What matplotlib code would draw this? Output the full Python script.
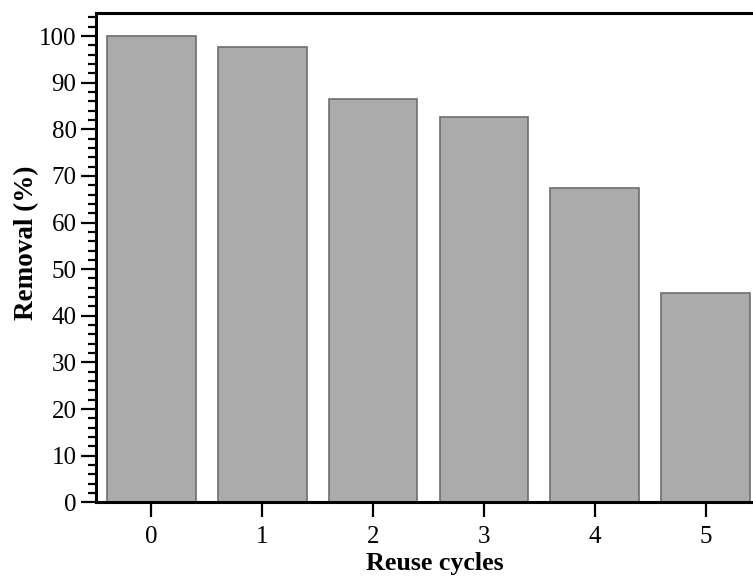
import numpy as np
import matplotlib.pyplot as plt
from matplotlib.ticker import MultipleLocator

cycles = [0, 1, 2, 3, 4, 5]
removal = [100.0, 97.6, 86.4, 82.6, 67.5, 44.9]

plt.rcParams['font.family'] = 'Liberation Serif'

fig = plt.figure(figsize=(7.53, 5.81), dpi=100)
ax = fig.add_axes([96/753, 1-502.3/581, 665/753, (502.3-12.7)/581])

ax.bar(cycles, removal, width=0.80, color='#ababab', edgecolor='#6e6e6e', linewidth=1.2)

ax.set_xlim(-0.5, 5.5)
ax.set_ylim(0, 105)
ax.set_xticks(cycles)
ax.yaxis.set_major_locator(MultipleLocator(10))
ax.yaxis.set_minor_locator(MultipleLocator(2))

for s in ax.spines.values():
    s.set_linewidth(2.2)

ax.tick_params(axis='both', which='major', direction='out', length=11, width=1.6,
               labelsize=18, pad=3)
ax.tick_params(axis='x', which='major', pad=6)
ax.tick_params(axis='y', which='minor', direction='out', length=5.5, width=1.6)
ax.tick_params(axis='x', which='minor', bottom=False)

ax.set_xlabel('Reuse cycles', fontsize=18.7, fontweight='bold', labelpad=3)
ax.set_ylabel('Removal (%)', fontsize=19.5, fontweight='bold', labelpad=0)
ax.xaxis.label.set_x(0.509)
ax.yaxis.label.set_y(0.53)

fig.savefig('out.png', dpi=100)
